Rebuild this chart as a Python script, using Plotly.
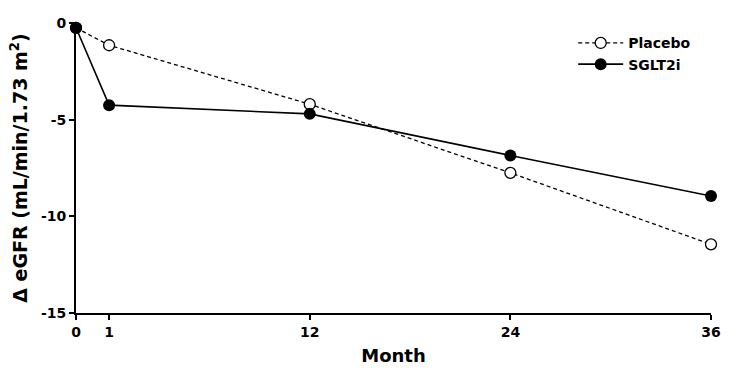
import plotly.graph_objects as go

months = [0, 1, 12, 24, 36]
placebo = [-0.25, -1.15, -4.2, -7.75, -11.45]
sglt2i = [-0.25, -4.25, -4.7, -6.85, -8.95]
x_tick_labels = ["0", "1", "12", "24", "36"]
y_ticks = [0, -5, -10, -15]

# The original x-axis is not linear: month 0 sits just left of month 1,
# then 1, 12, 24, 36 are evenly spaced.
def xpos(m):
    return 0.0 if m == 0 else 0.165 + [1, 12, 24, 36].index(m)

xp = [xpos(m) for m in months]

fig = go.Figure()
fig.add_trace(go.Scatter(
    x=xp, y=placebo, name="Placebo", mode="lines+markers",
    line=dict(color="black", width=1.3, dash="4px,3px"),
    marker=dict(symbol="circle", size=11, color="white", line=dict(color="black", width=1.3)),
    cliponaxis=False,
))
fig.add_trace(go.Scatter(
    x=xp, y=sglt2i, name="SGLT2i", mode="lines+markers",
    line=dict(color="black", width=1.6),
    marker=dict(symbol="circle", size=12, color="black"),
    cliponaxis=False,
))

font = "DejaVu Sans, Arial, sans-serif"
fig.update_layout(
    width=740, height=381,
    margin=dict(l=76, r=29, t=23, b=68),
    paper_bgcolor="white", plot_bgcolor="white",
    font=dict(family=font, color="black"),
    showlegend=True,
    legend=dict(x=0.783, y=0.985, xanchor="left", yanchor="top",
                font=dict(size=14, family=font, color="black", weight="bold"),
                bgcolor="rgba(0,0,0,0)", tracegroupgap=0, itemwidth=45),
    xaxis=dict(
        range=[xp[0], xp[-1]], tickmode="array", tickvals=xp, ticktext=x_tick_labels,
        showline=True, linecolor="black", linewidth=2, ticks="outside", ticklen=5,
        tickwidth=1.5, tickcolor="black", showgrid=False, zeroline=False,
        automargin=False,
        tickfont=dict(size=14, family=font, weight="bold"),
        title=dict(text="Month", font=dict(size=18, family=font, weight="bold"), standoff=11),
    ),
    yaxis=dict(
        range=[-15, 0], tickmode="array", tickvals=y_ticks,
        ticktext=[str(v) for v in y_ticks],
        showline=True, linecolor="black", linewidth=2, ticks="outside", ticklen=5,
        tickwidth=1.5, tickcolor="black", showgrid=False, zeroline=False,
        automargin=False,
        tickfont=dict(size=14, family=font, weight="bold"),
        title=dict(text="Δ eGFR (mL/min/1.73 m<sup>2</sup>)",
                   font=dict(size=19, family=font, weight="bold"), standoff=8),
    ),
)
fig.write_html("out.html", config={"displayModeBar": False},
               post_script="document.body.style.margin='0';")
